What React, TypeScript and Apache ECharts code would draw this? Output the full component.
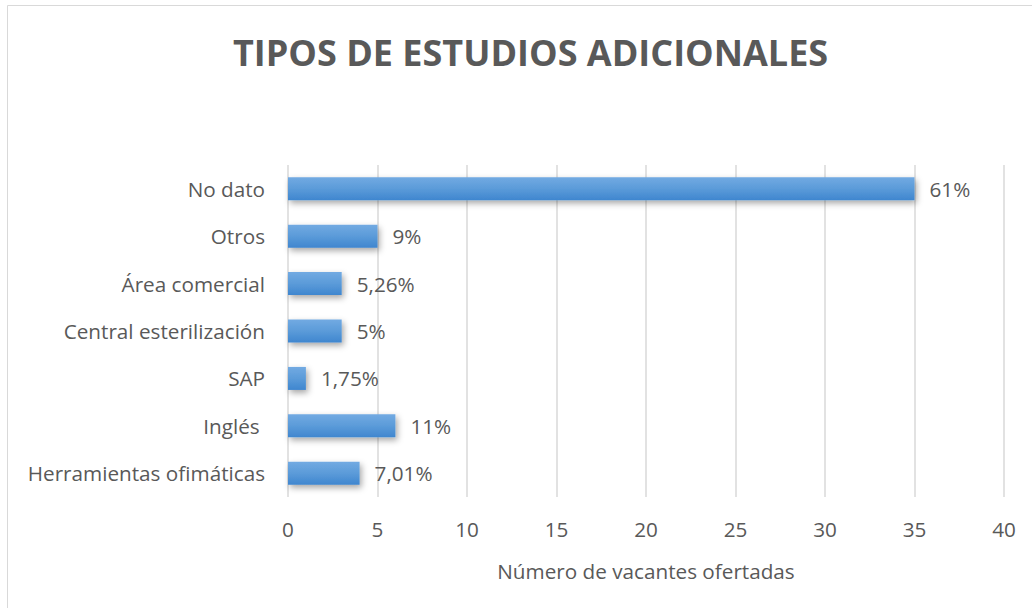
import React, { useEffect, useRef } from "react";
import * as echarts from "echarts";

const categories = [
  "No dato",
  "Otros",
  "Área comercial",
  "Central esterilización",
  "SAP",
  "Inglés ",
  "Herramientas ofimáticas",
];
const values = [35, 5, 3, 3, 1, 6, 4];
const labels = ["61%", "9%", "5,26%", "5%", "1,75%", "11%", "7,01%"];
const xTicks = { min: 0, max: 40, interval: 5 };

const FONT = "'Open Sans', 'Noto Sans', sans-serif";
const TEXT = "#595959";
const FS = 20.7;

export default function App() {
  const ref = useRef<HTMLDivElement>(null);
  useEffect(() => {
    if (!ref.current) return;
    const chart = echarts.init(ref.current, undefined, { renderer: "svg" });
    chart.setOption({
      animation: false,
      backgroundColor: "#ffffff",
      textStyle: { fontFamily: FONT },
      title: {
        text: "TIPOS DE ESTUDIOS ADICIONALES",
        left: 228,
        top: 29,
        textStyle: { fontFamily: FONT, fontWeight: "bold", fontSize: 36, color: TEXT },
      },
      graphic: [
        {
          type: "rect",
          shape: { x: 7.5, y: 5.5, width: 1100, height: 1000 },
          style: { fill: "none", stroke: "#d9d9d9", lineWidth: 1 },
          silent: true,
        },
      ],
      grid: { left: 288, right: 28, top: 165, bottom: 111, containLabel: false },
      xAxis: {
        type: "value",
        min: xTicks.min,
        max: xTicks.max,
        interval: xTicks.interval,
        name: "Número de vacantes ofertadas",
        nameLocation: "middle",
        nameGap: 63,
        nameTextStyle: { fontFamily: FONT, fontSize: FS, color: TEXT },
        axisLine: { show: false },
        axisTick: { show: false },
        axisLabel: { fontFamily: FONT, fontSize: FS, color: TEXT, margin: 21 },
        splitLine: { show: true, lineStyle: { color: "#d9d9d9", width: 1.5 } },
      },
      yAxis: {
        type: "category",
        data: categories,
        inverse: true,
        axisLine: { show: false },
        axisTick: { show: false },
        splitLine: { show: false },
        axisLabel: { fontFamily: FONT, fontSize: FS, color: TEXT, margin: 23 },
      },
      series: [
        {
          type: "bar",
          data: values,
          barWidth: 23,
          itemStyle: {
            color: new echarts.graphic.LinearGradient(0, 0, 0, 1, [
              { offset: 0, color: "#72aae2" },
              { offset: 0.5, color: "#5b9bd9" },
              { offset: 1, color: "#3f86cf" },
            ]),
            shadowColor: "rgba(0,0,0,0.35)",
            shadowBlur: 6,
            shadowOffsetX: 2,
            shadowOffsetY: 3,
          },
          label: {
            show: true,
            position: "right",
            distance: 15,
            fontFamily: FONT,
            fontSize: FS,
            color: TEXT,
            formatter: (p: any) => labels[p.dataIndex],
          },
        },
      ],
    });
    return () => chart.dispose();
  }, []);
  return (
    <div
      ref={ref}
      style={{ position: "fixed", left: 0, top: 0, width: 1032, height: 608 }}
    />
  );
}
